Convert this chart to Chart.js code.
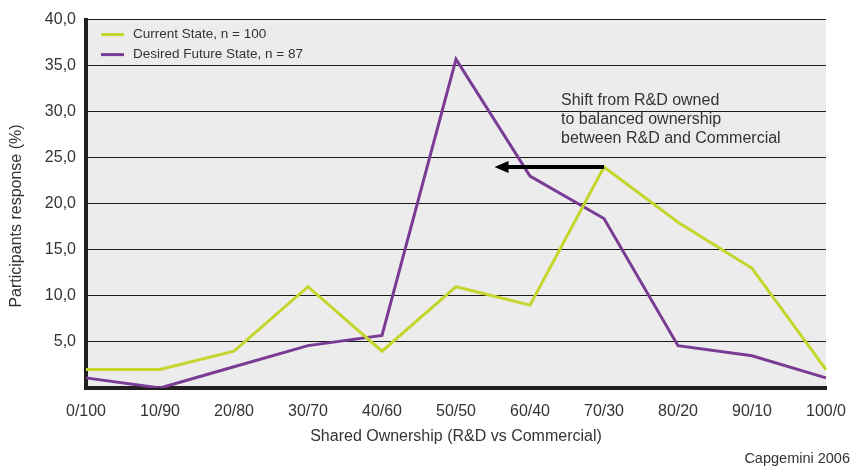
<!DOCTYPE html>
<html>
<head>
<meta charset="utf-8">
<script src="https://cdn.jsdelivr.net/npm/chart.js@4/dist/chart.umd.min.js"></script>
<style>
  html, body { margin: 0; padding: 0; background: #fff; }
  #wrap { width: 857px; height: 468px; position: relative; }
</style>
</head>
<body>
<div id="wrap"><canvas id="chart"></canvas></div>
<script>
const categories = ["0/100", "10/90", "20/80", "30/70", "40/60", "50/50", "60/40", "70/30", "80/20", "90/10", "100/0"];
const currentState = [2, 2, 4, 11, 4, 11, 9, 24, 18, 13, 2];
const desiredState = [1.1, 0, 2.3, 4.6, 5.7, 35.7, 23, 18.4, 4.6, 3.5, 1.1];
const seriesLabels = ["Current State, n = 100", "Desired Future State, n = 87"];
const seriesColors = ["#c4d52b", "#7a3b94"];
const yTitle = "Participants response (%)";
const shiftNote = ["Shift from R&D owned", "to balanced ownership", "between R&D and Commercial"];
const shiftFrom = 7;      // 70/30
const shiftTo = 5.52;     // between 50/50 and 60/40
const shiftLevel = 24;
const sourceNote = "Capgemini 2006";

const FONT = "'Liberation Sans', Arial, sans-serif";

// grey plot background
const plotBackground = {
  id: "plotBackground",
  beforeDraw(chart) {
    const { ctx, chartArea: a } = chart;
    ctx.save();
    ctx.fillStyle = "#ececec";
    ctx.fillRect(a.left, a.top, a.right - a.left, a.bottom - a.top);
    ctx.restore();
  }
};

// legend box, y title, arrow, note and source text
const overlay = {
  id: "overlay",
  afterDraw(chart) {
    const { ctx, chartArea: a, scales } = chart;
    ctx.save();

    // legend in the top left corner of the plot
    ctx.font = "13.5px " + FONT;
    ctx.textBaseline = "middle";
    chart.data.datasets.forEach((ds, i) => {
      const y = a.top + 15 + i * 20;
      ctx.strokeStyle = ds.borderColor;
      ctx.lineWidth = 3;
      ctx.beginPath();
      ctx.moveTo(a.left + 15, y);
      ctx.lineTo(a.left + 38, y);
      ctx.stroke();
      ctx.fillStyle = "#333";
      ctx.fillText(ds.label, a.left + 47, y);
    });

    // y axis title, sits a little below the middle
    ctx.save();
    ctx.font = "16px " + FONT;
    ctx.fillStyle = "#333";
    ctx.textAlign = "center";
    ctx.translate(17, 216);
    ctx.rotate(-Math.PI / 2);
    ctx.fillText(yTitle, 0, 0);
    ctx.restore();

    // arrow
    const x0 = scales.x.getPixelForValue(shiftFrom);
    const x1 = scales.x.getPixelForValue(shiftTo);
    const y = scales.y.getPixelForValue(shiftLevel);
    ctx.strokeStyle = "#000";
    ctx.fillStyle = "#000";
    ctx.lineWidth = 4;
    ctx.beginPath();
    ctx.moveTo(x0, y);
    ctx.lineTo(x1 + 12, y);
    ctx.stroke();
    ctx.beginPath();
    ctx.moveTo(x1, y);
    ctx.lineTo(x1 + 14, y - 6);
    ctx.lineTo(x1 + 14, y + 6);
    ctx.closePath();
    ctx.fill();

    // note
    ctx.font = "16px " + FONT;
    ctx.fillStyle = "#333";
    ctx.textAlign = "left";
    shiftNote.forEach((line, i) => ctx.fillText(line, 561, 101 + i * 19));

    // source
    ctx.font = "14.5px " + FONT;
    ctx.textAlign = "right";
    ctx.fillText(sourceNote, 850, 459);
    ctx.restore();
  }
};

new Chart(document.getElementById("chart"), {
  type: "line",
  data: {
    labels: categories,
    datasets: [
      { label: seriesLabels[0], data: currentState, borderColor: seriesColors[0] },
      { label: seriesLabels[1], data: desiredState, borderColor: seriesColors[1] }
    ]
  },
  options: {
    responsive: true,
    maintainAspectRatio: false,
    animation: false,
    layout: { padding: { top: 14, right: 31, left: 0, bottom: 0 } },
    elements: {
      line: { borderWidth: 3, tension: 0, borderCapStyle: "butt", borderJoinStyle: "miter" },
      point: { radius: 0 }
    },
    plugins: {
      legend: { display: false },
      tooltip: { enabled: false }
    },
    scales: {
      x: {
        offset: false,
        grid: { display: false, drawTicks: false },
        border: { display: true, color: "#231f20", width: 4 },
        ticks: { color: "#333", font: { family: FONT, size: 16 }, padding: 14, maxRotation: 0, autoSkip: false },
        title: {
          display: true,
          text: "Shared Ownership (R&D vs Commercial)",
          color: "#333",
          font: { family: FONT, size: 16 },
          padding: { top: 4, bottom: 22 }
        },
        afterFit(scale) {
          scale.height = 80;
          // let the end labels hang past the plot edges
          scale.paddingLeft = 0;
          scale.paddingRight = 0;
        }
      },
      y: {
        min: 0,
        max: 40,
        grid: { color: "#1a1a1a", lineWidth: 1, drawTicks: false },
        border: { display: true, color: "#231f20", width: 4 },
        ticks: {
          stepSize: 5,
          color: "#333",
          font: { family: FONT, size: 16 },
          padding: 10,
          callback: v => v === 0 ? "" : v.toFixed(1).replace(".", ",")
        },
        afterFit(scale) { scale.width = 86; }
      }
    }
  },
  plugins: [plotBackground, overlay]
});
</script>
</body>
</html>
